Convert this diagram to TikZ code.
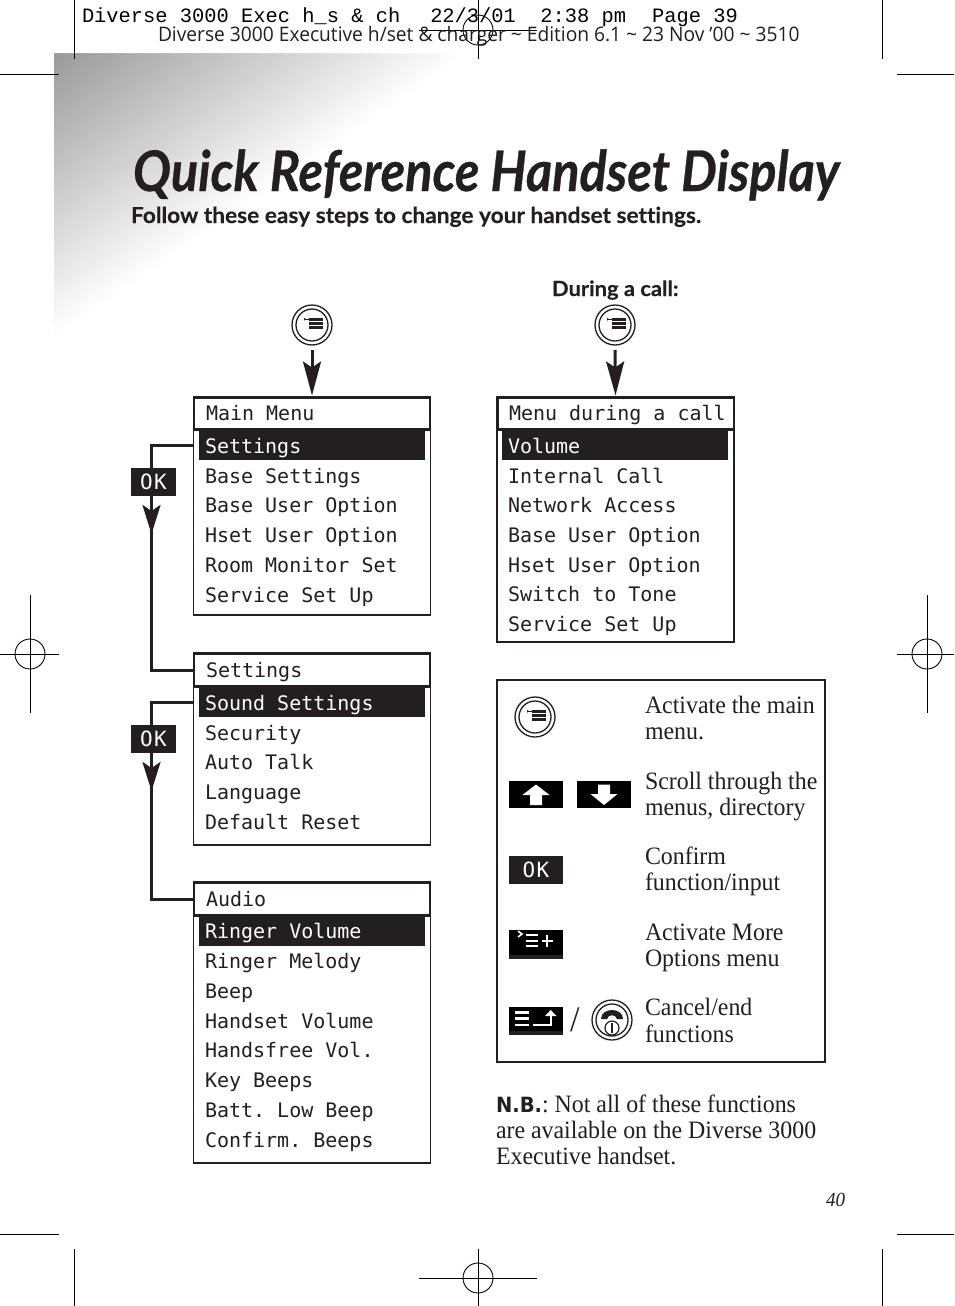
\documentclass[tikz,border=0pt]{standalone}
\usepackage{fontspec}
\usetikzlibrary{arrows.meta,calc}
\setmainfont[FakeStretch=0.955]{Liberation Serif}
\newfontfamily\monof{DejaVu Sans Mono}
\newfontfamily\courf{Liberation Mono}
\newfontfamily\headf{Open Sans}
\newfontfamily\titlef[Ligatures=NoCommon]{Lato}
\newfontfamily\titleb[FakeBold=0.6,Ligatures=NoCommon]{Lato}
\newfontfamily\subb[FakeBold=0.25,Ligatures=NoCommon]{Lato}
\newfontfamily\nbf{DejaVu Sans}
\definecolor{ink}{HTML}{231F20}
\tikzset{
  every node/.style={inner sep=0pt,outer sep=0pt,text=ink},
  hair/.style={draw=black,line width=0.9},
  menubody/.style={draw=ink,line width=1.5,fill=white,anchor=north west},
  menuhead/.style={draw=ink,line width=2.6,fill=white,anchor=north west},
  sel/.style={fill=ink,anchor=north west},
  rowtext/.style={anchor=base west,font=\monof\fontsize{20}{24}\selectfont},
  seltext/.style={rowtext,text=white},
  okbox/.style={fill=ink,text=white,minimum width=45,minimum height=28,font=\monof\fontsize{21}{26}\selectfont},
  btn/.style={fill=black,minimum width=54,minimum height=27},
  conn/.style={draw=ink,line width=3,line join=miter},
  flow/.style={draw=ink,line width=3,-{Stealth[length=29,width=18,inset=6]}},
  flowtop/.style={draw=ink,line width=3,shorten <=5,shorten >=2,-{Stealth[length=34,width=18,inset=6]}},
  legend/.style={anchor=base west,font=\fontsize{25}{26}\selectfont},
  regcircle/.style={circle,draw=black,line width=0.9,minimum size=30},
  menukey/.style={circle,draw=ink,line width=1.3,fill=white,minimum size=40},
}
\newcommand{\keyring}[1]{\draw[ink,line width=1.3] (#1) circle[radius=16];}
\newcommand{\keybars}[1]{%
  \fill[ink] ($(#1)+(-3.5,-7)$) rectangle ++(14,2.6);
  \fill[ink] ($(#1)+(-3.5,-3)$) rectangle ++(14,2.6);
  \fill[ink] ($(#1)+(-3.5,1)$) rectangle ++(14,2.6);
  \draw[ink,line width=0.8] ($(#1)+(-7.5,-5.8)$) -- ++(4,0);
  \fill[ink] ($(#1)+(-8,-7.3)$) -- ++(2,1.5) -- ++(-2,1.5) -- cycle;}
\begin{document}
\frenchspacing
\begin{tikzpicture}[x=1pt,y=-1pt]
\useasboundingbox (0,0) rectangle (954,1306);
\fill[white] (0,0) rectangle (954,1306);
% gradient corner
\foreach \i in {60,59,...,1}{
  \pgfmathsetmacro\t{\i/60}
  \pgfmathsetmacro\p{40*(1-\t)}
  \fill[black!\p!white] (54,54) -- ({54+416*\t},54) -- (54,{54+286*\t}) -- cycle;
}
% crop marks
\draw[hair] (74,0) -- (74,59) (0,74) -- (59,74) (882,0) -- (882,59) (897,74) -- (954,74);
\draw[hair] (0,1234) -- (59,1234) (897,1234) -- (954,1234) (74,1249) -- (74,1306) (882,1249) -- (882,1306);
\node[regcircle] (regT) at (478,30) {};
\draw[hair] (478,0) -- (478,59) (419,30) -- (537,30);
\node[regcircle] (regL) at (30,654) {};
\draw[hair] (30,595) -- (30,713) (0,654) -- (59,654);
\node[regcircle] (regR) at (927,654) {};
\draw[hair] (927,595) -- (927,713) (897,654) -- (954,654);
\node[regcircle] (regB) at (478,1278) {};
\draw[hair] (478,1249) -- (478,1306) (419,1278) -- (537,1278);
% slug lines
\node[anchor=base west,font=\courf\fontsize{20.4}{22}\selectfont,text=black] (slug) at (82,23) {Diverse 3000 Exec h\_s \& ch\hspace{30pt}22/3/01\hspace{24.5pt}2:38 pm\hspace{26pt}Page 39};
\node[anchor=base west,font=\headf\fontsize{20}{22}\selectfont] (slugb) at (158,42) {\scalebox{0.96}[1]{Diverse 3000 Executive h/set \& charger \textasciitilde{} Edition 6.1 \textasciitilde{} 23 Nov ’00 \textasciitilde{} 3510}};
% title
\node[anchor=base west,font=\titleb\bfseries\itshape\fontsize{56}{60}\selectfont] (title) at (133,191) {\scalebox{0.901}[1]{Quick Reference Handset Display}};
\node[anchor=base west,font=\subb\bfseries\fontsize{22}{24}\selectfont] (sub) at (131,223) {\scalebox{1.032}[1]{Follow these easy steps to change your handset settings.}};
\node[anchor=base west,font=\subb\bfseries\fontsize{21}{24}\selectfont] (during) at (552,296) {\scalebox{1.044}[1]{During a call:}};
% menu keys
\node[menukey] (key1) at (312,325) {};
\keyring{key1}\keybars{key1}
\node[menukey] (key2) at (615,325) {};
\keyring{key2}\keybars{key2}
% main menu
\node[menubody,minimum width=237,minimum height=218] (m1) at (193.5,397) {};
\node[menuhead,minimum width=236,minimum height=32] (m1h) at (194,397.5) {};
\node[sel,minimum width=226,minimum height=29] (m1s) at (199,431) {};
\node[rowtext] (m1t) at (206,420) {Main Menu};
\node[seltext] (m1a) at (205,453) {Settings};
\node[rowtext] (m1b) at (205,483) {Base Settings};
\node[rowtext] (m1c) at (205,512) {Base User Option};
\node[rowtext] (m1d) at (205,542) {Hset User Option};
\node[rowtext] (m1e) at (205,572) {Room Monitor Set};
\node[rowtext] (m1f) at (205,602) {Service Set Up};
% menu during a call
\node[menubody,line width=2,minimum width=237,minimum height=245] (m2) at (497,397) {};
\node[menuhead,minimum width=236.5,minimum height=32] (m2h) at (497.3,397.5) {};
\node[sel,minimum width=226,minimum height=29] (m2s) at (502,431) {};
\node[rowtext] (m2t) at (509,420) {Menu during a call};
\node[seltext] (m2a) at (508,453) {Volume};
\node[rowtext] (m2b) at (508,483) {Internal Call};
\node[rowtext] (m2c) at (508,512) {Network Access};
\node[rowtext] (m2d) at (508,542) {Base User Option};
\node[rowtext] (m2e) at (508,572) {Hset User Option};
\node[rowtext] (m2f) at (508,601) {Switch to Tone};
\node[rowtext] (m2g) at (508,631) {Service Set Up};
% settings
\node[menubody,minimum width=237,minimum height=192] (m3) at (193.5,653) {};
\node[menuhead,minimum width=236,minimum height=33] (m3h) at (194,653.5) {};
\node[sel,minimum width=226,minimum height=29] (m3s) at (199,688) {};
\node[rowtext] (m3t) at (206,677) {Settings};
\node[seltext] (m3a) at (205,710) {Sound Settings};
\node[rowtext] (m3b) at (205,740) {Security};
\node[rowtext] (m3c) at (205,769) {Auto Talk};
\node[rowtext] (m3d) at (205,799) {Language};
\node[rowtext] (m3e) at (205,829) {Default Reset};
% audio
\node[menubody,minimum width=237,minimum height=281] (m4) at (193.5,882) {};
\node[menuhead,minimum width=236,minimum height=33] (m4h) at (194,882.5) {};
\node[sel,minimum width=226,minimum height=30] (m4s) at (199,916) {};
\node[rowtext] (m4t) at (206,906) {Audio};
\node[seltext] (m4a) at (205,938) {Ringer Volume};
\node[rowtext] (m4b) at (205,968) {Ringer Melody};
\node[rowtext] (m4c) at (205,998) {Beep};
\node[rowtext] (m4d) at (205,1028) {Handset Volume};
\node[rowtext] (m4e) at (205,1057) {Handsfree Vol.};
\node[rowtext] (m4f) at (205,1087) {Key Beeps};
\node[rowtext] (m4g) at (205,1117) {Batt. Low Beep};
\node[rowtext] (m4h2) at (205,1147) {Confirm. Beeps};
% connectors
\draw[flowtop] (key1.south) -- (m1h.north);
\draw[flowtop] (key2.south) -- (m2h.north);
\coordinate (j1) at (151.5,445.5);
\coordinate (j2) at (151.5,702.5);
\draw[conn] (m1s.west -| m1.west) -- (j1) -- (j1 |- m3h.west) -- (m3h.west);
\draw[conn] (m3s.west -| m3.west) -- (j2) -- (j2 |- m4h.west) -- (m4h.west);
\node[okbox] (ok1) at (153.5,482) {O\kern1.5pt K};
\node[okbox] (ok2) at (153.5,739) {O\kern1.5pt K};
\coordinate (a1) at (151.5,534);
\coordinate (a2) at (151.5,791);
\draw[flow] (ok1.south -| j1) -- (a1);
\draw[flow] (ok2.south -| j2) -- (a2);
% legend
\node[draw=ink,line width=2.6,anchor=north west,minimum width=328,minimum height=382] (lg) at (497,680) {};
\node[menukey] (key3) at (535,717) {};
\keyring{key3}\keybars{key3}
\node[btn] (up) at (536,794.5) {};
\fill[white] (522.5,795) -- (536,784.5) -- (549.5,795) -- (542,795) -- (542,805) -- (530,805) -- (530,795) -- cycle;
\node[btn] (down) at (604,794.5) {};
\fill[white] (590.5,794) -- (604,805) -- (617.5,794) -- (610,794) -- (610,784.5) -- (598,784.5) -- (598,794) -- cycle;
\node[okbox,minimum width=54] (ok3) at (536,870) {O\kern1.5pt K};
% more options key
\node[btn,minimum height=29] (more) at (536,944.5) {};
\fill[ink] (509,955) rectangle (563,959);
\draw[white,line width=2] (525.7,935) -- (538,935) (525.7,940.7) -- (538,940.7) (525.7,946.3) -- (538,946.3);
\draw[white,line width=2] (541.7,940.7) -- (552.7,940.7) (547.2,934.5) -- (547.2,947);
\draw[white,line width=1.6] (518,931) -- (522,934) -- (518,937);
% cancel key
\node[btn,minimum height=28.5] (cancel) at (536,1021) {};
\fill[ink] (509,1031) rectangle (563,1035.2);
\draw[white,line width=2.4] (515,1012.3) -- (529.3,1012.3) (515,1018.6) -- (529.3,1018.6) (515,1025) -- (529.3,1025);
\draw[white,line width=1.8] (533.3,1025) -- (550.7,1025) -- (550.7,1015);
\fill[white] (545,1016) -- (550.7,1010) -- (556.7,1016) -- cycle;
\node[anchor=center,font=\fontsize{36}{38}\selectfont] (slash) at (575,1020) {/};
% phone key
\node[menukey] (key4) at (612,1020) {};
\keyring{key4}
\fill[ink] (601,1019) .. controls (601,1007) and (623,1007) .. (623,1019) -- (617,1019) .. controls (616,1014) and (608,1014) .. (607,1019) -- cycle;
\draw[ink,line width=1.2] (612,1028) circle[radius=7];
\draw[ink,line width=1.2] (612,1023) -- (612,1033);
\node[legend] (t1a) at (645,713) {Activate the main};
\node[legend] (t1b) at (645,739) {menu.};
\node[legend] (t2a) at (645,789) {Scroll through the};
\node[legend] (t2b) at (645,815) {menus, directory};
\node[legend] (t3a) at (645,864) {Confirm};
\node[legend] (t3b) at (645,890) {function/input};
\node[legend] (t4a) at (645,940) {Activate More};
\node[legend] (t4b) at (645,966) {Options menu};
\node[legend] (t5a) at (645,1015) {Cancel/end};
\node[legend] (t5b) at (645,1042) {functions};
\node[legend] (nb1) at (496,1112) {{\nbf\bfseries\fontsize{21}{24}\selectfont\scalebox{0.93}[1]{N.B.}}: Not all of these functions};
\node[legend] (nb2) at (496,1138) {are available on the Diverse 3000};
\node[legend] (nb3) at (496,1164) {Executive handset.};
\node[anchor=base west,font=\itshape\fontsize{20}{22}\selectfont] (pg) at (826,1206) {40};
\end{tikzpicture}
\end{document}
